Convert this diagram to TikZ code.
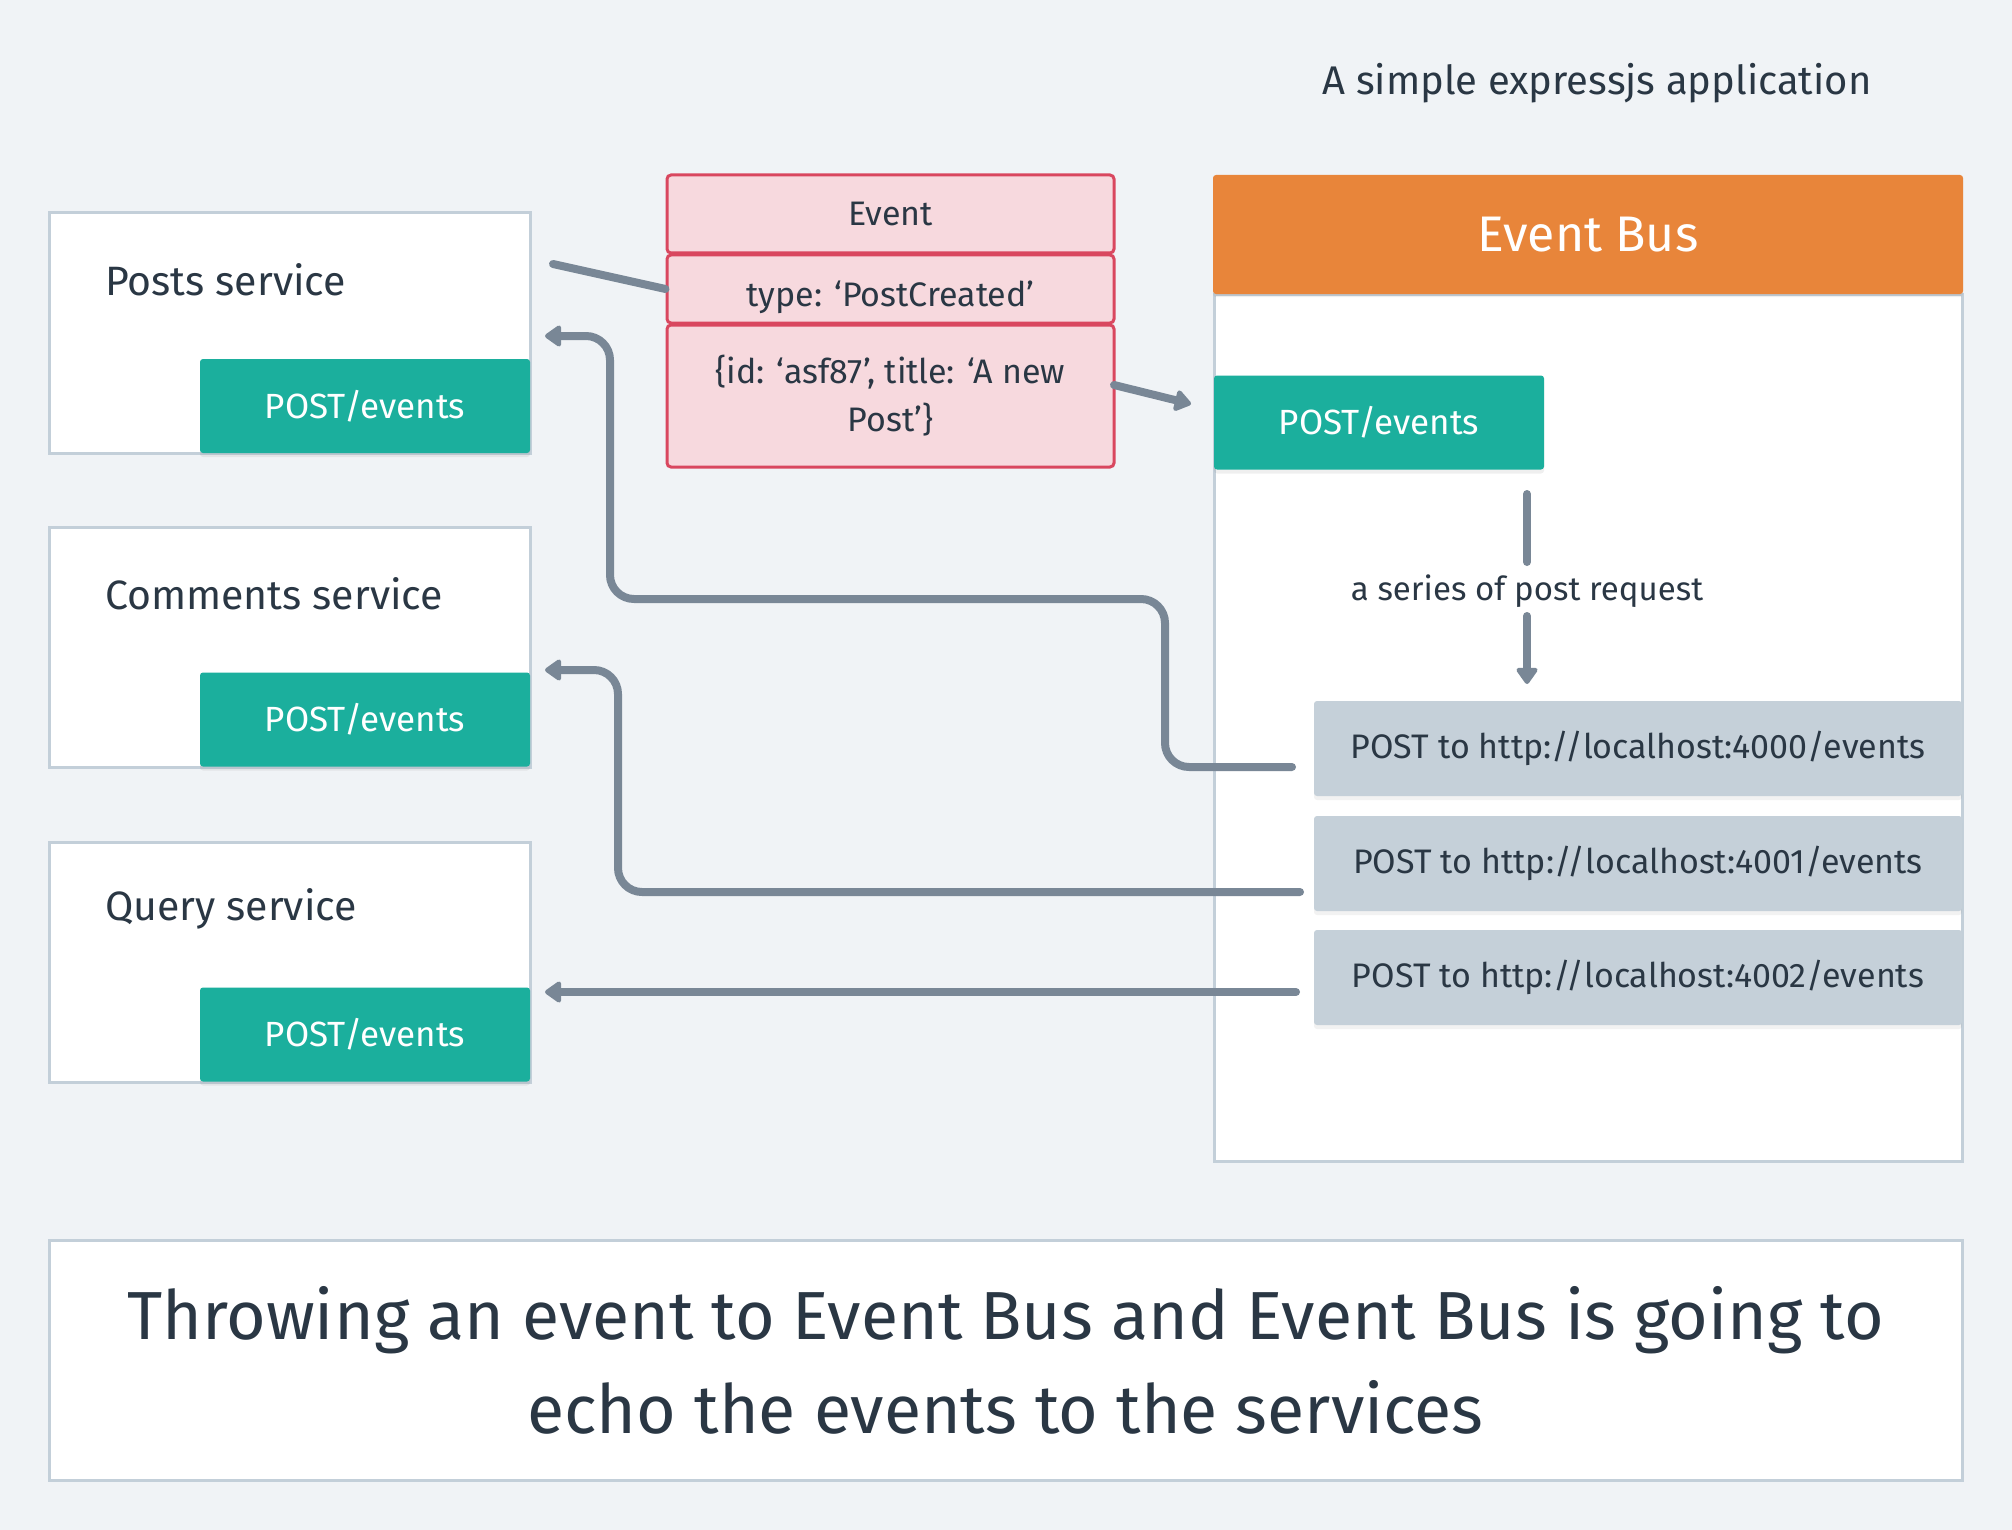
\documentclass[tikz,border=0pt]{standalone}
\usepackage{fontspec}
\setmainfont{Fira Sans}
\usetikzlibrary{arrows.meta,shadows,calc}
\definecolor{bg}{HTML}{F0F3F6}
\definecolor{bord}{HTML}{C3CFD9}
\definecolor{teal}{HTML}{1BAF9D}
\definecolor{evfill}{HTML}{F7D9DE}
\definecolor{evbord}{HTML}{D9475F}
\definecolor{orng}{HTML}{E8853A}
\definecolor{graybox}{HTML}{C5D0D9}
\definecolor{txt}{HTML}{2A3744}
\definecolor{conncol}{HTML}{798796}
\newcommand{\fs}[1]{\fontsize{#1}{#1}\selectfont}
\tikzset{
  svcbox/.style={draw=bord, line width=3pt, fill=white, minimum width=481pt, minimum height=240pt, inner sep=0pt},
  svctitle/.style={anchor=west, text=txt, font=\fs{41}, inner sep=0pt},
  tealbox/.style={fill=teal, rounded corners=3pt, minimum width=330pt, minimum height=94pt, inner sep=0pt, text=white, font=\fs{35},
     drop shadow={opacity=0.12, shadow xshift=0pt, shadow yshift=-4pt}},
  evrow/.style={draw=evbord, line width=3pt, fill=evfill, rounded corners=4pt, minimum width=447pt, inner sep=0pt, text=txt, font=\fs{34}, align=center},
  greybox/.style={fill=graybox, rounded corners=3pt, minimum width=648pt, minimum height=95pt, inner sep=0pt, text=txt, font=\fs{34},
     drop shadow={opacity=0.10, shadow xshift=0pt, shadow yshift=-4pt}},
  conn/.style={draw=conncol, line width=8pt, line cap=round, line join=round},
  tip/.style={-{Triangle[round,length=18pt,width=24pt]}},
}
\begin{document}
\begin{tikzpicture}[x=1pt,y=-1pt]
\fill[bg] (0,0) rectangle (2012,1530);
\useasboundingbox (0,0) rectangle (2012,1530);

\node[text=txt, font=\fs{40}, inner sep=0pt] (apptitle) at (1597,83) {A simple expressjs application};

% services
\node[svcbox] (posts) at (289.5,333) {};
\node[svctitle] (poststitle) at (105,280) {Posts service};
\node[tealbox] (postsep) at (365,406) {POST/events};

\node[svcbox] (comments) at (289.5,647) {};
\node[svctitle] (commentstitle) at (105,594) {Comments service};
\node[tealbox] (commentsep) at (365,719.5) {POST/events};

\node[svcbox] (query) at (289.5,962) {};
\node[svctitle] (querytitle) at (105,909) {Query service};
\node[tealbox] (queryep) at (365,1034.5) {POST/events};

% event table
\node[evrow, minimum height=78pt] (evhead) at (890.5,214) {Event};
\node[evrow, minimum height=68pt] (evtype) at (890.5,289) {};
\node[text=txt, font=\fs{34}, inner sep=0pt] (evtypetext) at (890.5,297) {type: ‘PostCreated’};
\node[evrow, minimum height=142pt, font=\fontsize{34}{48}\selectfont] (evdata) at (890.5,396) {\{id: ‘asf87’, title: ‘A new\\Post’\}};

% event bus
\node[draw=bord, line width=3pt, fill=white, minimum width=748pt, minimum height=867pt, inner sep=0pt] (busbody) at (1588,727.5) {};
\node[fill=orng, rounded corners=3pt, minimum width=750pt, minimum height=119pt, inner sep=0pt, text=white, font=\fs{50},
   drop shadow={opacity=0.12, shadow xshift=0pt, shadow yshift=-3pt}] (bushead) at (1588,234.5) {Event Bus};
\node[tealbox] (busep) at (1379,422.5) {POST/events};

\node[text=txt, font=\fs{33}, inner sep=0pt] (series) at (1527,591) {a series of post request};

\node[greybox] (g1) at (1638,748.5) {POST to http://localhost:4000/events};
\node[greybox] (g2) at (1638,863.5) {POST to http://localhost:4001/events};
\node[greybox] (g3) at (1638,977.5) {POST to http://localhost:4002/events};

% caption
\node[draw=bord, line width=3pt, fill=white, minimum width=1913pt, minimum height=240pt, inner sep=0pt] (capbox) at (1005.5,1360) {};
\node[text=txt, font=\fontsize{68}{94}\selectfont, align=center, inner sep=0pt] (captext) at (1005.5,1360)
  {Throwing an event to Event Bus and Event Bus is going to\\echo the events to the services};

% connectors
\coordinate (pl) at (553,264);
\draw[conn] (pl) -- (evtype.west);

\coordinate (ds) at (1114,385);
\coordinate (dt) at (1191,404);
\draw[conn, tip] (ds) -- (dt);

\coordinate (s1) at (1527,494);
\coordinate (s2) at (1527,562);
\draw[conn] (s1) -- (s2);
\coordinate (s3) at (1527,616);
\coordinate (s4) at (1527,684);
\draw[conn, tip] (s3) -- (s4);

\coordinate (a1s) at (1292,767);
\coordinate (a1t) at (545,336);
\draw[conn, tip, rounded corners=24pt] (a1s) -- (1165,767) -- (1165,599) -- (610,599) -- (610,336) -- (a1t);

\coordinate (a2s) at (1300,892);
\coordinate (a2t) at (545,670);
\draw[conn, tip, rounded corners=24pt] (a2s) -- (618,892) -- (618,670) -- (a2t);

\coordinate (a3s) at (1296,992);
\coordinate (a3t) at (545,992);
\draw[conn, tip] (a3s) -- (a3t);
\end{tikzpicture}
\end{document}
